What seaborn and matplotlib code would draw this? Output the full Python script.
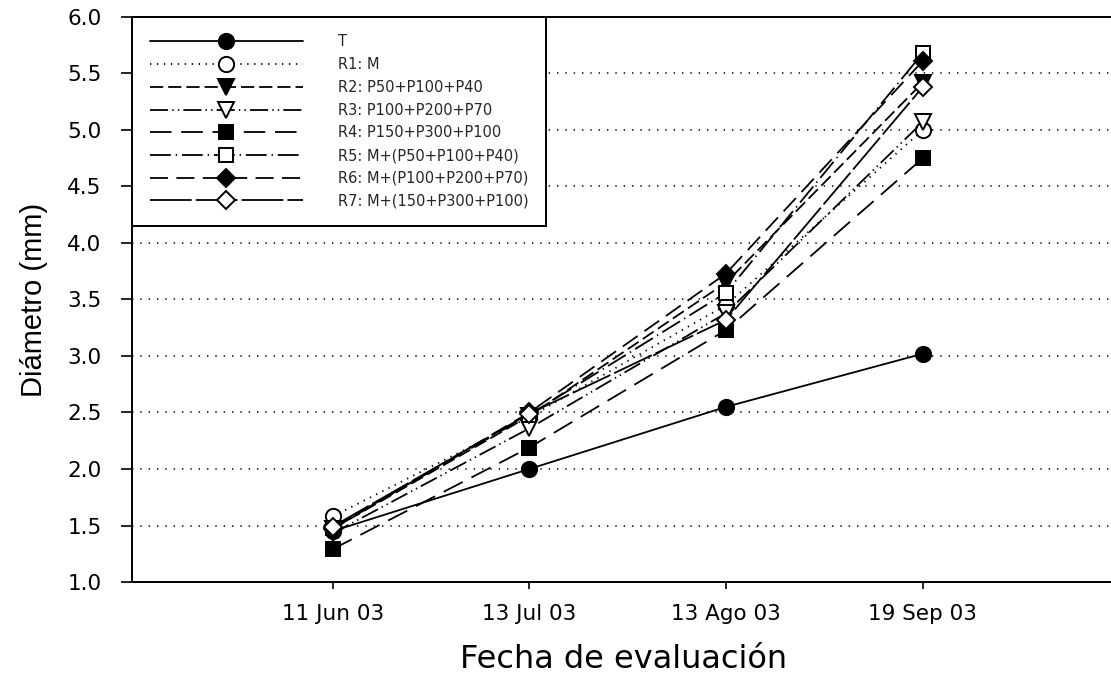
import matplotlib
matplotlib.use("Agg")
import matplotlib.pyplot as plt
import seaborn as sns

# ---------------- data ----------------
dates = ["11 Jun 03", "13 Jul 03", "13 Ago 03", "19 Sep 03"]
labels = ["T", "R1: M", "R2: P50+P100+P40", "R3: P100+P200+P70",
          "R4: P150+P300+P100", "R5: M+(P50+P100+P40)",
          "R6: M+(P100+P200+P70)", "R7: M+(150+P300+P100)"]
T  = [1.45, 2.00, 2.55, 3.02]
R1 = [1.58, 2.46, 3.45, 5.00]
R2 = [1.47, 2.47, 3.65, 5.42]
R3 = [1.43, 2.36, 3.38, 5.07]
R4 = [1.29, 2.19, 3.23, 4.75]
R5 = [1.48, 2.48, 3.56, 5.68]
R6 = [1.47, 2.50, 3.73, 5.61]
R7 = [1.49, 2.49, 3.32, 5.38]
series = [T, R1, R2, R3, R4, R5, R6, R7]
yticks = [1.0, 1.5, 2.0, 2.5, 3.0, 3.5, 4.0, 4.5, 5.0, 5.5, 6.0]

# ---------------- styles ----------------
markers = ["o", "o", "v", "v", "s", "s", "D", "D"]
filled = [True, False, True, False, True, False, True, False]
msizes = [11, 11, 11, 11, 10.5, 10.5, 9, 9]
linestyles = ["-",
              (0, (1.0, 4.0)),
              (0, (9.5, 3.6)),
              (0, (13, 3, 1, 3, 1, 3)),
              (0, (15.5, 7)),
              (0, (15, 3.5, 1, 3.5)),
              (0, (13, 6)),
              (0, (30, 3))]

sns.set_style("white")
plt.rcParams["font.family"] = ["DejaVu Sans"]
plt.rcParams["lines.scale_dashes"] = False

fig = plt.figure(figsize=(11.11, 6.79), dpi=100)
ax = fig.add_axes([132 / 1111, 1 - 582 / 679, 983.5 / 1111, 565 / 679])

xpos = list(range(len(dates)))
for vals, lab, m, f, ms, ls in zip(series, labels, markers, filled, msizes, linestyles):
    sns.lineplot(x=xpos, y=vals, ax=ax, color="black", marker=m,
                 markersize=ms, markerfacecolor="black" if f else "white",
                 markeredgecolor="black", markeredgewidth=1.4,
                 linewidth=1.3, linestyle=ls, label=lab, legend=False)

ax.set_xlim(-1.02, 3.98)
ax.set_ylim(1.0, 6.0)
ax.set_yticks(yticks)
ax.set_yticklabels([f"{v:.1f}" for v in yticks])
ax.set_xticks(xpos)
ax.set_xticklabels(dates)

ax.yaxis.grid(True, linestyle=(0, (1.0, 5.0)), color="black", linewidth=1.1)
ax.xaxis.grid(False)
ax.set_axisbelow(True)

for side in ["left", "bottom", "top"]:
    ax.spines[side].set_visible(True)
    ax.spines[side].set_color("black")
    ax.spines[side].set_linewidth(1.4)
ax.spines["right"].set_visible(False)

ax.tick_params(axis="y", direction="out", length=8, width=1.2, pad=14,
               labelsize=15.5, colors="black", left=True)
ax.tick_params(axis="x", direction="out", length=5, width=1.2, pad=11,
               labelsize=15.5, colors="black", bottom=True)

ax.set_xlabel("Fecha de evaluación", fontsize=23, labelpad=14, color="black")
ax.set_ylabel("Diámetro (mm)", fontsize=21, labelpad=14, color="black",
              family=["Liberation Sans", "DejaVu Sans"])

handles, labs = ax.get_legend_handles_labels()
leg = ax.legend(handles, labs, loc="upper left", bbox_to_anchor=(0, 1),
                borderaxespad=0, fontsize=10.5, handlelength=10.5,
                handletextpad=2.4, labelspacing=0.53, borderpad=1.2,
                numpoints=1, frameon=True, fancybox=False, framealpha=1,
                edgecolor="black")
leg.get_frame().set_linewidth(1.4)

fig.savefig("out.png", dpi=100)
